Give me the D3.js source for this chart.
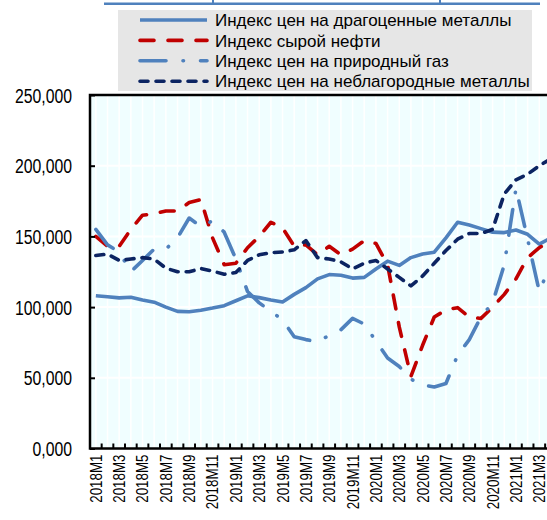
<!DOCTYPE html>
<html>
<head>
<meta charset="utf-8">
<script src="https://cdn.jsdelivr.net/npm/d3@7"></script>
<style>
	body { margin: 0; background: #ffffff; }
	svg { display: block; }
	text { font-family: "Liberation Sans", Arial, sans-serif; fill: #000000; }
</style>
</head>
<body>
<div id="chart"></div>
<script>
var months = [
	"2018M1", "2018M2", "2018M3", "2018M4", "2018M5", "2018M6", "2018M7", "2018M8", "2018M9", "2018M10", "2018M11", "2018M12",
	"2019M1", "2019M2", "2019M3", "2019M4", "2019M5", "2019M6", "2019M7", "2019M8", "2019M9", "2019M10", "2019M11", "2019M12",
	"2020M1", "2020M2", "2020M3", "2020M4", "2020M5", "2020M6", "2020M7", "2020M8", "2020M9", "2020M10", "2020M11", "2020M12",
	"2021M1", "2021M2", "2021M3", "2021M4"
];

// values, in thousands
var preciousMetals = [108, 107.3, 106.5, 107, 105, 103.5, 100, 97, 96.7, 97.8, 99.3, 101,
	104.5, 108, 106.7, 105, 103.6, 109, 113.8, 120, 123, 122.5, 120.5, 121,
	127, 132.5, 129.5, 135, 137.5, 138.8, 149, 160, 158, 155.5, 153, 152.7,
	154.5, 151.5, 144.5, 149];

var crudeOil = [150, 143, 143, 155, 165, 166, 168, 168, 174, 176, 149, 130,
	131, 142, 150, 160, 156, 143, 144, 137, 143, 137, 141, 147,
	145, 130, 86, 51, 73, 93, 98, 99.6, 93, 92, 100, 109,
	120, 135, 142, 147];

var naturalGas = [155, 144, 139, 125, 133, 141, 141, 149, 163, 157, 161, 153,
	134, 111, 103, 97, 91, 79, 77, 75.5, 80, 84, 92, 88,
	76, 64, 58, 49, 45, 43.5, 46, 66, 77, 93, 103, 130,
	184, 148, 111, 131];

var baseMetals = [136.5, 137.5, 133, 134, 135, 134, 127.5, 125, 125, 127.3, 125.5, 123.2,
	124.5, 133, 137, 138.5, 139, 140.5, 147, 135, 134, 132, 127, 131,
	133, 127, 121, 115, 122, 131, 140, 148, 152, 152, 155, 180,
	190, 194, 200, 205];

var seriesNames = [
	"Индекс цен на драгоценные металлы",
	"Индекс сырой нефти",
	"Индекс цен на природный газ",
	"Индекс цен на неблагородные металлы"
];

var yTicks = [0, 50000, 100000, 150000, 200000, 250000];
var yTickLabels = ["0,000", "50,000", "100,000", "150,000", "200,000", "250,000"];

var width = 547,
	height = 520,
	plotLeft = 90,
	plotTop = 95,
	plotBottom = 448.5,
	band = 11.67,
	narrowFactor = 0.81;

var styles = [
	{ color: "#4f81bd", dash: null },
	{ color: "#c00000", dash: "14,14" },
	{ color: "#4f81bd", dash: "26,17,0.5,17" },
	{ color: "#0c2462", dash: "8,8" }
];

var svg = d3.select("#chart")
	.append("svg")
	.attr("width", width)
	.attr("height", height);

var x = d3.scaleBand()
	.domain(months)
	.range([plotLeft, plotLeft + months.length * band])
	.padding(0);

var y = d3.scaleLinear()
	.domain([0, 250000])
	.range([plotBottom, plotTop]);

function cx(m) {
	return x(m) + x.bandwidth() / 2;
}

// squeeze text like a narrow font
function narrow(selection) {
	selection.each(function() {
		var w = this.getComputedTextLength();
		d3.select(this)
			.attr("textLength", w * narrowFactor)
			.attr("lengthAdjust", "spacingAndGlyphs");
	});
}

// title underline, title itself is cut off
svg.append("rect")
	.attr("x", 104).attr("y", 2.5)
	.attr("width", 436).attr("height", 2.5)
	.style("fill", "#4f81bd");
[213, 440].forEach(function(px) {
	svg.append("rect")
		.attr("x", px - 1).attr("y", 0)
		.attr("width", 2).attr("height", 3)
		.style("fill", "#4f81bd");
});

// plot background
svg.append("rect")
	.attr("x", plotLeft).attr("y", plotTop)
	.attr("width", width - plotLeft + 20).attr("height", plotBottom - plotTop)
	.style("fill", "#f0feff");

// vertical gridlines
svg.append("g")
	.selectAll("line")
	.data(months)
	.enter()
	.append("line")
	.attr("x1", function(d) { return cx(d); })
	.attr("x2", function(d) { return cx(d); })
	.attr("y1", plotTop)
	.attr("y2", plotBottom)
	.style("stroke", "#ffffff")
	.style("stroke-width", 1.5);

// horizontal gridlines
svg.append("g")
	.selectAll("line")
	.data(yTicks)
	.enter()
	.append("line")
	.attr("x1", plotLeft)
	.attr("x2", width)
	.attr("y1", function(d) { return y(d); })
	.attr("y2", function(d) { return y(d); })
	.style("stroke", "#ffffff")
	.style("stroke-width", 2);

// series
var allSeries = [preciousMetals, crudeOil, naturalGas, baseMetals];
var line = d3.line()
	.x(function(d, i) { return cx(months[i]); })
	.y(function(d) { return y(d * 1000); });

allSeries.forEach(function(values, index) {
	svg.append("path")
		.datum(values)
		.attr("d", line)
		.style("fill", "none")
		.style("stroke", styles[index].color)
		.style("stroke-width", 3.6)
		.style("stroke-linecap", styles[index].dash ? "round" : "butt")
		.style("stroke-linejoin", "round")
		.style("stroke-dasharray", styles[index].dash);
});

// frame
svg.append("path")
	.attr("d", "M" + width + "," + plotTop + "H" + plotLeft + "V" + plotBottom + "H" + width)
	.style("fill", "none")
	.style("stroke", "#000000")
	.style("stroke-width", 2.5);

// y axis
var yAxis = d3.axisLeft(y)
	.tickValues(yTicks)
	.tickSize(-5)
	.tickPadding(18)
	.tickFormat(function(d, i) { return yTickLabels[i]; });

var gy = svg.append("g")
	.attr("transform", "translate(" + plotLeft + ",0)")
	.call(yAxis);
gy.select(".domain").remove();
gy.selectAll(".tick line").style("stroke", "#000000").style("stroke-width", 2);
gy.selectAll(".tick text")
	.style("font-family", "'Liberation Sans', Arial, sans-serif")
	.style("font-size", "19.5px")
	.attr("dy", "0.36em")
	.call(narrow);

// x axis, ticks between categories
var xBounds = months.map(function(m) { return x(m); });
svg.append("g")
	.selectAll("line")
	.data(xBounds)
	.enter()
	.append("line")
	.attr("x1", function(d) { return d; })
	.attr("x2", function(d) { return d; })
	.attr("y1", plotBottom)
	.attr("y2", plotBottom - 5)
	.style("stroke", "#000000")
	.style("stroke-width", 2);

svg.append("g")
	.selectAll("text")
	.data(months.filter(function(m, i) { return i % 2 === 0; }))
	.enter()
	.append("text")
	.attr("transform", function(d) { return "translate(" + cx(d) + "," + (plotBottom + 6) + ") rotate(-90)"; })
	.attr("dy", "0.36em")
	.style("text-anchor", "end")
	.style("font-size", "16.5px")
	.text(function(d) { return d; })
	.call(narrow);

// legend
var legend = svg.append("g");
legend.append("rect")
	.attr("x", 118).attr("y", 10)
	.attr("width", 414).attr("height", 81)
	.style("fill", "#e6e6e6");

seriesNames.forEach(function(name, index) {
	var ly = 20 + index * 20.4;
	legend.append("line")
		.attr("x1", 140).attr("x2", 207)
		.attr("y1", ly).attr("y2", ly)
		.style("stroke", styles[index].color)
		.style("stroke-width", 3.6)
		.style("stroke-linecap", styles[index].dash ? "round" : "butt")
		.style("stroke-dasharray", styles[index].dash);
	legend.append("text")
		.attr("x", 215)
		.attr("y", ly)
		.attr("dy", "0.36em")
		.style("font-size", "17px")
		.text(name);
});
</script>
</body>
</html>
